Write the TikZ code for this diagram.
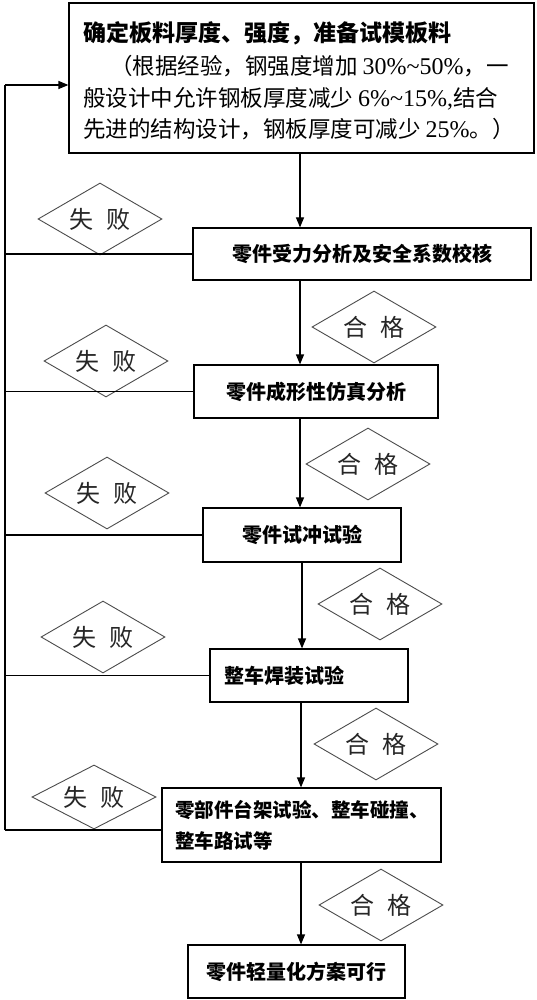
\documentclass[tikz,border=0pt]{standalone}
\usepackage{fontspec}
\setmainfont{Noto Sans CJK SC}
\newfontfamily\lat{Liberation Serif}
\newcommand{\latn}[1]{{\fontsize{24}{26}\selectfont\lat #1}}
\usetikzlibrary{arrows.meta,shapes.geometric}
\begin{document}
\begin{tikzpicture}[x=1pt,y=-1pt,
  box/.style={draw, line width=1.2pt, inner sep=0pt, font=\fontsize{20}{24}\selectfont\bfseries},
  dia/.style={diamond, aspect=2, draw=black!70, line width=0.9pt, inner sep=0pt,
     minimum width=124pt, minimum height=72pt, font=\fontsize{24}{26}\selectfont, text=black!85},
  txt/.style={anchor=base west, inner sep=0pt, font=\fontsize{22.5}{26}\selectfont},
  link/.style={line width=1.2pt},
  arr/.style={line width=1.2pt, -{Triangle[length=10pt,width=8pt]}}]
\useasboundingbox (0,0) rectangle (537,1000);
\fill[white] (0,0) rectangle (537,1000);

% top box
\node[box, minimum width=465pt, minimum height=150pt] (top) at (301.5,78) {};
\node[txt, font=\fontsize{23}{26}\selectfont\bfseries] (ttl) at (83,42) {确定板料厚度、强度，准备试模板料};
\node[txt] (l1) at (83,75) {\hspace{1.2em}（根据经验，钢强度增加 \latn{30\%\textasciitilde50\%}，一};
\node[txt] (l2) at (83,107) {般设计中允许钢板厚度减少 \latn{6\%\textasciitilde15\%,}结合};
\node[txt] (l3) at (83,138) {先进的结构设计，钢板厚度可减少 \latn{25\%}。）};

% process boxes
\node[box, minimum width=338pt, minimum height=52pt] (b2) at (362,254) {零件受力分析及安全系数校核};
\node[box, minimum width=244pt, minimum height=53pt] (b3) at (316,391.5) {零件成形性仿真分析};
\node[box, minimum width=198pt, minimum height=54pt] (b4) at (302,535) {零件试冲试验};
\node[box, minimum width=198pt, minimum height=53pt, inner xsep=14pt, text width=170pt, align=left] (b5) at (309,675.5) {整车焊装试验};
\node[box, minimum width=279pt, minimum height=74pt, inner xsep=13pt, text width=253pt, align=left, font=\fontsize{19.5}{31}\selectfont\bfseries] (b6) at (301.5,825) {零部件台架试验、整车碰撞、\\整车路试等};
\node[box, minimum width=217pt, minimum height=53pt] (b7) at (296.5,971.5) {零件轻量化方案可行};

% decision labels
\node[dia] (f1) at (100,219) {失\hspace{0.55em}败};
\node[dia] (p1) at (374,327) {合\hspace{0.55em}格};
\node[dia] (f2) at (106,361) {失\hspace{0.55em}败};
\node[dia] (p2) at (368,464) {合\hspace{0.55em}格};
\node[dia] (f3) at (107,493) {失\hspace{0.55em}败};
\node[dia] (p3) at (380,604) {合\hspace{0.55em}格};
\node[dia] (f4) at (103,637) {失\hspace{0.55em}败};
\node[dia] (p4) at (376,744) {合\hspace{0.55em}格};
\node[dia, minimum height=64pt] (f5) at (94,797) {失\hspace{0.55em}败};
\node[dia] (p5) at (381,905) {合\hspace{0.55em}格};

% main flow
\coordinate (c1) at (300,0);
\coordinate (c2) at (301,0);
\coordinate (c3) at (302,0);
\draw[arr] (top.south -| c1) -- (b2.north -| c1);
\draw[arr] (b2.south -| c1) -- (b3.north -| c1);
\draw[arr] (b3.south -| c1) -- (b4.north -| c1);
\draw[arr] (b4.south -| c3) -- (b5.north -| c3);
\draw[arr] (b5.south -| c2) -- (b6.north -| c2);
\draw[arr] (b6.south -| c2) -- (b7.north -| c2);

% feedback loop
\coordinate (Ltop) at (5,85);
\coordinate (Lbot) at (5,830);
\draw[link] (Lbot) -- (Ltop);
\draw[arr] (Ltop) -- (top.west |- Ltop);
\draw[link] (b2.west) -- (b2.west -| Ltop);
\draw[link] (b3.west) -- (b3.west -| Ltop);
\draw[link] (b4.west) -- (b4.west -| Ltop);
\draw[link] (b5.west) -- (b5.west -| Ltop);
\draw[link] (b6.west |- Lbot) -- (Lbot);
\end{tikzpicture}
\end{document}
